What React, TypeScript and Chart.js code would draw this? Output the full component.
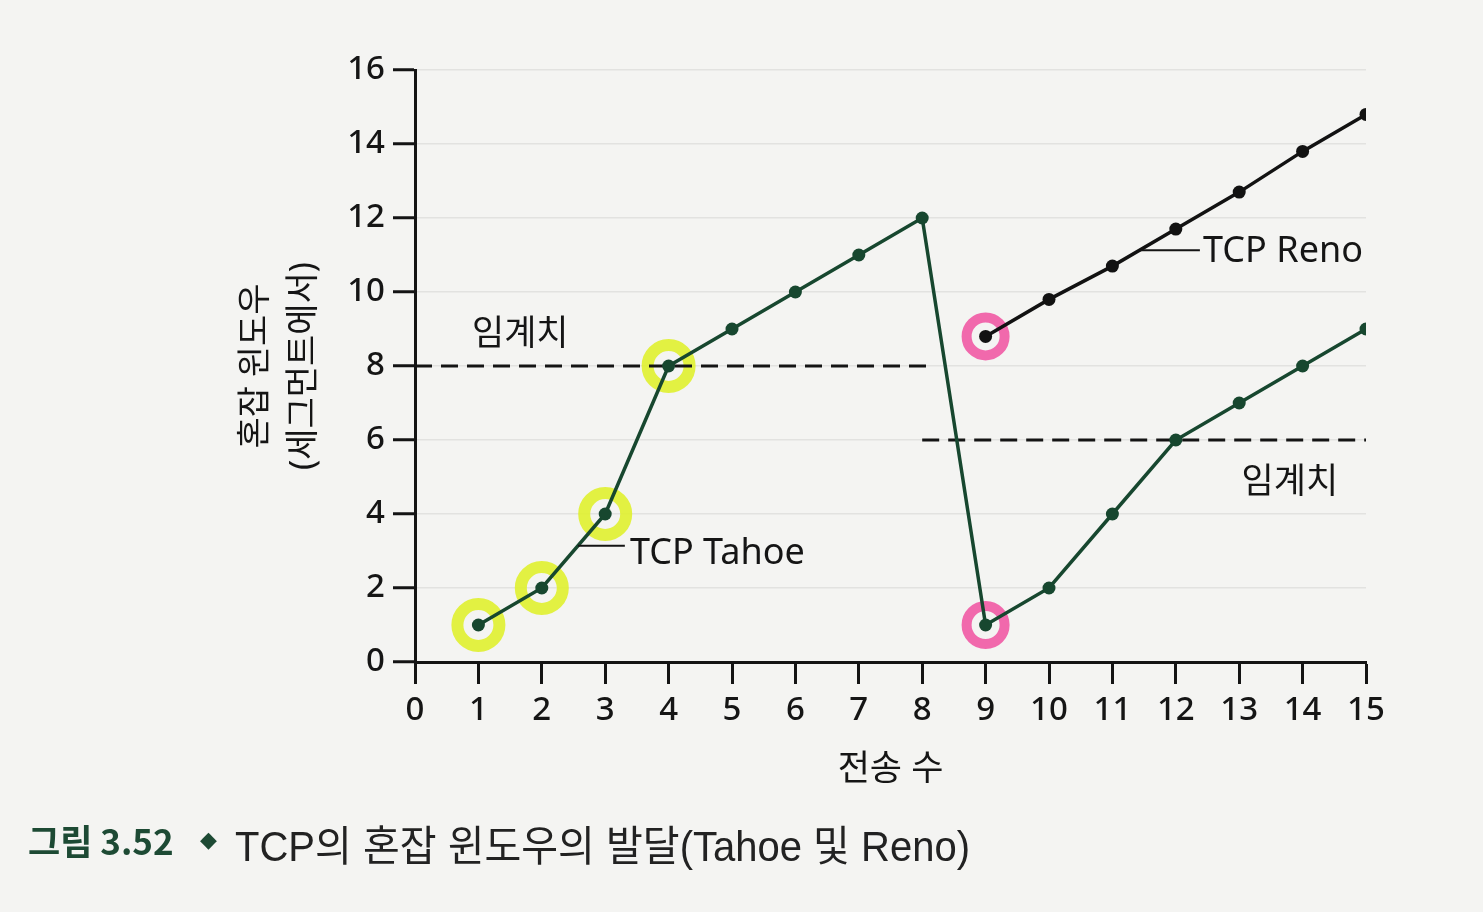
import React, { useEffect, useLayoutEffect, useRef } from 'react';
import { Chart, registerables } from 'chart.js';

Chart.register(...registerables);

// ---- data ----
const tahoeRounds = [1, 2, 3, 4, 5, 6, 7, 8, 9, 10, 11, 12, 13, 14, 15];
const tahoeCwnd = [1, 2, 4, 8, 9, 10, 11, 12, 1, 2, 4, 6, 7, 8, 9];
const renoRounds = [9, 10, 11, 12, 13, 14, 15];
const renoCwnd = [8.8, 9.8, 10.7, 11.7, 12.7, 13.8, 14.8];
const threshold1Rounds = [0, 8.1];
const threshold1Values = [8, 8];
const threshold2Rounds = [8, 15];
const threshold2Values = [6, 6];
const yellowMarkedRounds = [1, 2, 3, 4];
const pinkMarkedRounds = [9];

const FONT = "'Noto Sans', 'Noto Sans CJK KR', sans-serif";
const TAHOE_COLOR = '#17472f';
const RENO_COLOR = '#121212';

const labels = [
  { text: '임계치', x: 1.66, y: 8.85, align: 'center' as CanvasTextAlign, size: 35 },
  { text: '임계치', x: 13.8, y: 4.85, align: 'center' as CanvasTextAlign, size: 35 },
  { text: 'TCP Tahoe', x: 3.39, y: 2.92, align: 'left' as CanvasTextAlign, size: 36 },
  { text: 'TCP Reno', x: 12.43, y: 11.08, align: 'left' as CanvasTextAlign, size: 36 },
];
const leaders = [
  { x1: 2.57, x2: 3.31, y: 3.14 },
  { x1: 11.43, x2: 12.38, y: 11.13 },
];

const pts = (xs: number[], ys: number[]) => xs.map((x, i) => ({ x, y: ys[i] }));
const pick = (xs: number[], ys: number[], keep: number[]) =>
  xs.map((x, i) => ({ x, y: ys[i] })).filter((p) => keep.includes(p.x));

const annotationPlugin = {
  id: 'figAnnotations',
  afterDatasetsDraw(chart: any) {
    const { ctx, scales } = chart;
    const xs = scales.x;
    const ys = scales.y;
    ctx.save();
    ctx.strokeStyle = '#141414';
    ctx.lineWidth = 2;
    leaders.forEach((l) => {
      ctx.beginPath();
      ctx.moveTo(xs.getPixelForValue(l.x1), ys.getPixelForValue(l.y));
      ctx.lineTo(xs.getPixelForValue(l.x2), ys.getPixelForValue(l.y));
      ctx.stroke();
    });
    ctx.fillStyle = '#151515';
    ctx.textBaseline = 'middle';
    labels.forEach((t) => {
      ctx.font = `${t.size}px ${FONT}`;
      ctx.textAlign = t.align;
      ctx.fillText(t.text, xs.getPixelForValue(t.x), ys.getPixelForValue(t.y));
    });
    ctx.restore();
  },
};

export default function App() {
  const canvasRef = useRef<HTMLCanvasElement>(null);
  const capRef = useRef<HTMLSpanElement>(null);

  useLayoutEffect(() => {
    const el = capRef.current;
    if (el) {
      const w = el.getBoundingClientRect().width;
      if (w > 0) el.style.transform = `scaleX(${735 / w})`;
    }
  }, []);

  useEffect(() => {
    if (!canvasRef.current) return;
    const chart = new Chart(canvasRef.current, {
      type: 'line',
      data: {
        datasets: [
          {
            label: 'TCP Tahoe',
            data: pts(tahoeRounds, tahoeCwnd),
            borderColor: TAHOE_COLOR,
            backgroundColor: TAHOE_COLOR,
            borderWidth: 3.5,
            pointRadius: 6.5,
            pointBackgroundColor: TAHOE_COLOR,
            pointBorderWidth: 0,
            tension: 0,
            order: 1,
          },
          {
            label: 'TCP Reno',
            data: pts(renoRounds, renoCwnd),
            borderColor: RENO_COLOR,
            backgroundColor: RENO_COLOR,
            borderWidth: 3.5,
            pointRadius: 6.5,
            pointBackgroundColor: RENO_COLOR,
            pointBorderWidth: 0,
            tension: 0,
            order: 1,
          },
          {
            label: '임계치 1',
            data: pts(threshold1Rounds, threshold1Values),
            borderColor: '#141414',
            borderWidth: 2.8,
            borderDash: [17, 9],
            pointRadius: 0,
            order: 2,
          },
          {
            label: '임계치 2',
            data: pts(threshold2Rounds, threshold2Values),
            borderColor: '#141414',
            borderWidth: 2.8,
            borderDash: [17, 9],
            pointRadius: 0,
            order: 2,
          },
          {
            label: 'yellow marks',
            data: pick(tahoeRounds, tahoeCwnd, yellowMarkedRounds),
            showLine: false,
            pointRadius: 21,
            pointBorderWidth: 12,
            pointBackgroundColor: 'rgba(0,0,0,0)',
            pointBorderColor: 'rgba(222,240,35,0.85)',
            order: 10,
          },
          {
            label: 'pink marks',
            data: [
              ...pick(tahoeRounds, tahoeCwnd, pinkMarkedRounds),
              ...pick(renoRounds, renoCwnd, pinkMarkedRounds),
            ],
            showLine: false,
            pointRadius: 19,
            pointBorderWidth: 10,
            pointBackgroundColor: 'rgba(0,0,0,0)',
            pointBorderColor: 'rgba(240,80,160,0.85)',
            order: 10,
          },
        ],
      },
      options: {
        responsive: false,
        animation: false,
        layout: { padding: { left: 220, right: 117, top: 70, bottom: 112 } },
        plugins: {
          legend: { display: false },
          tooltip: { enabled: false },
        },
        scales: {
          x: {
            type: 'linear',
            min: 0,
            max: 15,
            afterFit: (s: any) => {
              s.height = 138;
            },
            ticks: {
              stepSize: 1,
              color: '#151515',
              padding: 7,
              font: { family: FONT, size: 33, weight: 500 },
            },
            grid: {
              drawOnChartArea: false,
              drawTicks: true,
              tickLength: 22,
              tickColor: '#141414',
              tickWidth: 3,
            },
            border: { display: true, color: '#141414', width: 3 },
            title: {
              display: true,
              text: '전송 수',
              color: '#151515',
              font: { family: FONT, size: 35 },
              padding: { top: 0, bottom: 9 },
            },
          },
          y: {
            type: 'linear',
            min: 0,
            max: 16,
            afterFit: (s: any) => {
              s.width = 195;
            },
            ticks: {
              stepSize: 2,
              color: '#151515',
              padding: 8,
              font: { family: FONT, size: 33, weight: 500 },
            },
            grid: {
              drawOnChartArea: true,
              color: 'rgba(0,0,0,0.07)',
              lineWidth: 1.5,
              tickLength: 22,
              tickColor: '#141414',
              tickWidth: 3,
            },
            border: { display: true, color: '#141414', width: 3 },
            title: {
              display: true,
              text: ['혼잡 윈도우', '(세그먼트에서)'],
              color: '#151515',
              font: { family: FONT, size: 34, lineHeight: 1.41 },
              padding: { top: 12, bottom: 0 },
            },
          },
        },
      },
      plugins: [annotationPlugin],
    });
    return () => chart.destroy();
  }, []);

  return (
    <div
      style={{
        position: 'fixed',
        left: 0,
        top: 0,
        width: 1483,
        height: 912,
        background: '#f4f4f2',
        overflow: 'hidden',
      }}
    >
      <canvas
        ref={canvasRef}
        width={1483}
        height={912}
        style={{ position: 'absolute', left: 0, top: 0, width: 1483, height: 912 }}
      />
      <div
        style={{
          position: 'absolute',
          left: 28,
          top: 808,
          whiteSpace: 'nowrap',
          display: 'flex',
          alignItems: 'center',
          lineHeight: 1.2,
        }}
      >
        <span
          style={{
            fontFamily: "'Noto Sans CJK KR', sans-serif",
            fontWeight: 700,
            fontSize: 35,
            color: '#1d4a34',
            width: 172,
            display: 'inline-block',
          }}
        >
          그림 3.52
        </span>
        <span
          style={{
            fontFamily: "'DejaVu Sans', sans-serif",
            fontSize: 22,
            color: '#1d4a34',
            width: 35,
            display: 'inline-block',
          }}
        >
          ◆
        </span>
        <span
          ref={capRef}
          style={{
            fontFamily: "'Liberation Sans', 'Noto Sans CJK KR', sans-serif",
            fontSize: 42,
            color: '#222',
            display: 'inline-block',
            transformOrigin: 'left center',
            marginTop: 14,
          }}
        >
          TCP의 혼잡 윈도우의 발달(Tahoe 및 Reno)
        </span>
      </div>
    </div>
  );
}
